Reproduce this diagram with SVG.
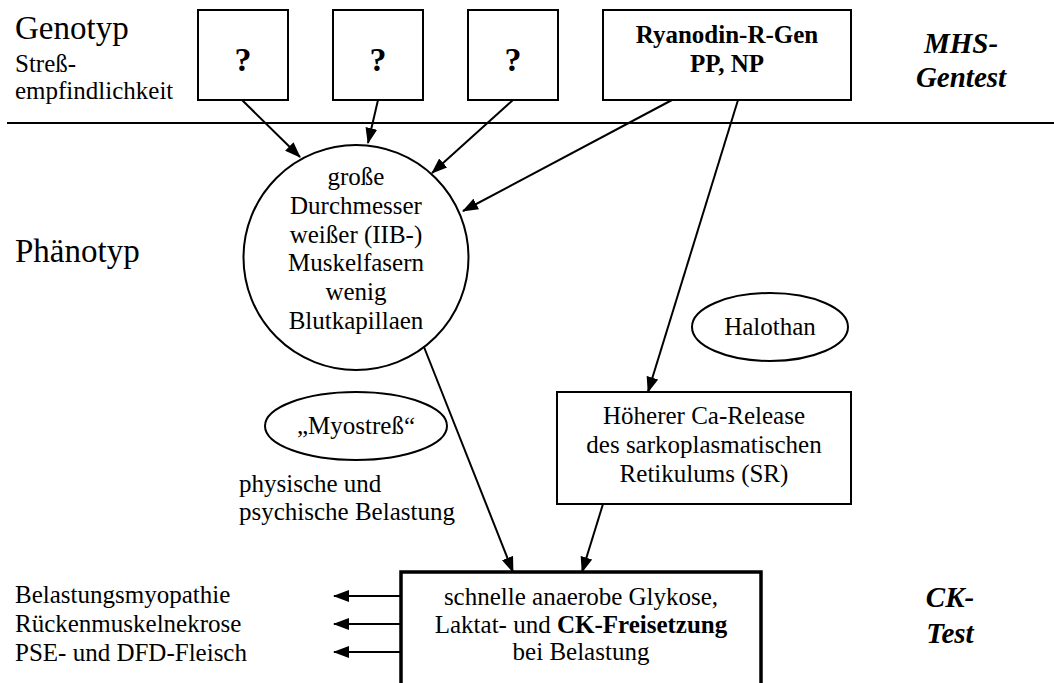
<svg xmlns="http://www.w3.org/2000/svg" width="1054" height="683" viewBox="0 0 1054 683">
<defs>
<marker id="ah" viewBox="0 0 16 12" refX="15" refY="6" markerWidth="16" markerHeight="12" markerUnits="userSpaceOnUse" orient="auto">
<path d="M0,0 L16,6 L0,12 Z" fill="#000"/>
</marker>
</defs>
<rect width="1054" height="683" fill="#fff"/>
<line x1="7" y1="123" x2="1054" y2="123" stroke="#000" stroke-width="2"/>
<g id="labels">
<text x="15" y="39" font-family="Liberation Serif" font-size="33">Genotyp</text>
<text x="15" y="72" font-family="Liberation Serif" font-size="25">Stre&#223;-</text>
<text x="15" y="99" font-family="Liberation Serif" font-size="25">empfindlichkeit</text>
<text x="15" y="262" font-family="Liberation Serif" font-size="33">Ph&#228;notyp</text>
<text x="961" y="53" font-family="Liberation Serif" font-size="29" font-weight="bold" font-style="italic" text-anchor="middle">MHS-</text>
<text x="961" y="87" font-family="Liberation Serif" font-size="29" font-weight="bold" font-style="italic" text-anchor="middle">Gentest</text>
<text x="950" y="607" font-family="Liberation Serif" font-size="29" font-weight="bold" font-style="italic" text-anchor="middle">CK-</text>
<text x="950" y="643" font-family="Liberation Serif" font-size="29" font-weight="bold" font-style="italic" text-anchor="middle">Test</text>
<text x="239" y="492" font-family="Liberation Serif" font-size="25">physische und</text>
<text x="239" y="520" font-family="Liberation Serif" font-size="25">psychische Belastung</text>
<text x="15" y="603" font-family="Liberation Serif" font-size="25">Belastungsmyopathie</text>
<text x="15" y="632" font-family="Liberation Serif" font-size="25">R&#252;ckenmuskelnekrose</text>
<text x="15" y="661" font-family="Liberation Serif" font-size="25">PSE- und DFD-Fleisch</text>
</g>
<g id="gene1"><rect x="198" y="10" width="90" height="90" fill="#fff" stroke="#000" stroke-width="2"/><text x="243" y="71" font-family="Liberation Serif" font-size="34" font-weight="bold" text-anchor="middle">?</text></g>
<g id="gene2"><rect x="333" y="10" width="90" height="90" fill="#fff" stroke="#000" stroke-width="2"/><text x="378" y="71" font-family="Liberation Serif" font-size="34" font-weight="bold" text-anchor="middle">?</text></g>
<g id="gene3"><rect x="468" y="10" width="90" height="90" fill="#fff" stroke="#000" stroke-width="2"/><text x="513" y="71" font-family="Liberation Serif" font-size="34" font-weight="bold" text-anchor="middle">?</text></g>
<g id="ryanodin"><rect x="603" y="10" width="248" height="90" fill="#fff" stroke="#000" stroke-width="2"/>
<text x="727" y="43" font-family="Liberation Serif" font-size="25" font-weight="bold" text-anchor="middle">Ryanodin-R-Gen</text>
<text x="727" y="72" font-family="Liberation Serif" font-size="25" font-weight="bold" text-anchor="middle">PP, NP</text></g>
<g id="fibres"><circle cx="356" cy="257.5" r="112.5" fill="#fff" stroke="#000" stroke-width="2"/>
<text x="356" y="185" font-family="Liberation Serif" font-size="25" text-anchor="middle">gro&#223;e</text>
<text x="356" y="214" font-family="Liberation Serif" font-size="25" text-anchor="middle">Durchmesser</text>
<text x="356" y="243" font-family="Liberation Serif" font-size="25" text-anchor="middle">wei&#223;er (IIB-)</text>
<text x="356" y="271" font-family="Liberation Serif" font-size="25" text-anchor="middle">Muskelfasern</text>
<text x="356" y="300" font-family="Liberation Serif" font-size="25" text-anchor="middle">wenig</text>
<text x="356" y="329" font-family="Liberation Serif" font-size="25" text-anchor="middle">Blutkapillaen</text></g>
<g id="halothan"><ellipse cx="770" cy="327" rx="78" ry="34" fill="#fff" stroke="#000" stroke-width="2"/><text x="770" y="335" font-family="Liberation Serif" font-size="25" text-anchor="middle">Halothan</text></g>
<g id="myostress"><ellipse cx="356" cy="426" rx="91" ry="34" fill="#fff" stroke="#000" stroke-width="2"/><text x="356" y="434" font-family="Liberation Serif" font-size="25" text-anchor="middle">&#8222;Myostre&#223;&#8220;</text></g>
<g id="carelease"><rect x="557" y="392" width="294" height="112" fill="#fff" stroke="#000" stroke-width="2"/>
<text x="704" y="424" font-family="Liberation Serif" font-size="25" text-anchor="middle">H&#246;herer Ca-Release</text>
<text x="704" y="453" font-family="Liberation Serif" font-size="25" text-anchor="middle">des sarkoplasmatischen</text>
<text x="704" y="482" font-family="Liberation Serif" font-size="25" text-anchor="middle">Retikulums (SR)</text></g>
<g id="glycolysis"><rect x="401" y="572" width="360" height="130" fill="#fff" stroke="#000" stroke-width="3.5"/>
<text x="581" y="605" font-family="Liberation Serif" font-size="25" text-anchor="middle">schnelle anaerobe Glykose,</text>
<text x="581" y="633" font-family="Liberation Serif" font-size="25" text-anchor="middle">Laktat- und <tspan font-weight="bold">CK-Freisetzung</tspan></text>
<text x="581" y="660" font-family="Liberation Serif" font-size="25" text-anchor="middle">bei Belastung</text></g>
<g id="connectors" stroke="#000" stroke-width="2" marker-end="url(#ah)">
<line x1="242" y1="100" x2="300" y2="157"/>
<line x1="378" y1="100" x2="368" y2="143"/>
<line x1="513" y1="100" x2="432" y2="173"/>
<line x1="672" y1="100" x2="463" y2="211"/>
<line x1="738" y1="100" x2="648" y2="392"/>
<line x1="424" y1="347" x2="513" y2="572"/>
<line x1="603" y1="504" x2="582" y2="572"/>
<line x1="401" y1="596" x2="334" y2="596"/>
<line x1="401" y1="624" x2="334" y2="624"/>
<line x1="401" y1="652" x2="334" y2="652"/>
</g>
</svg>
